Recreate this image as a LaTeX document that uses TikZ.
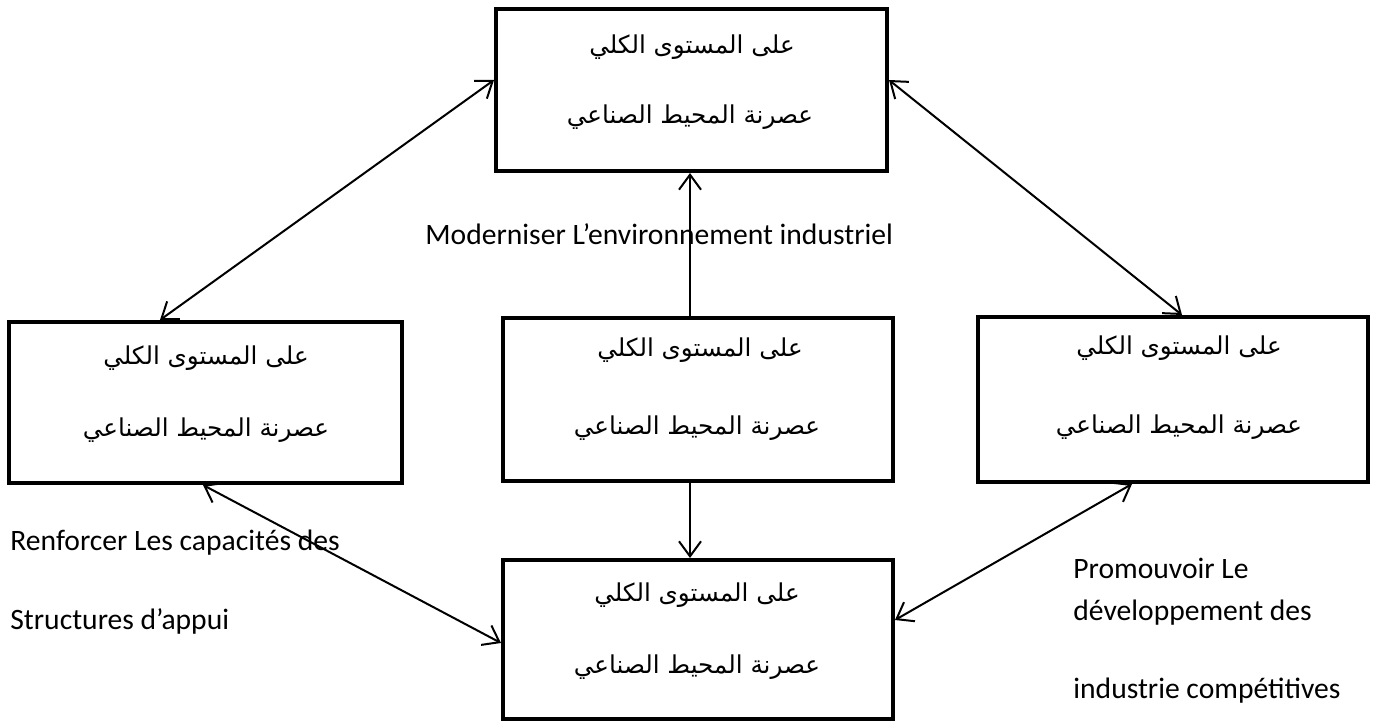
\documentclass[tikz,border=0pt]{standalone}
\usepackage{fontspec}
\setmainfont{Carlito}
\newfontfamily\arabicfont[Script=Arabic]{DejaVu Sans}
\TeXXeTstate=1
\usetikzlibrary{arrows.meta,fit,calc}
\begin{document}
\begin{tikzpicture}[x=0.5pt,y=-0.5pt,
  box/.style={draw, line width=2pt, inner sep=0pt},
  ar/.style={font=\arabicfont\fontsize{12.3}{14}\selectfont, inner sep=0pt, anchor=center},
  lbl/.style={font=\fontsize{14.8}{17}\selectfont, inner sep=0pt, anchor=base west},
  conn/.style={line width=1pt},
  >={Straight Barb[length=7.5pt,width=11pt]}]
\useasboundingbox (0,0) rectangle (1381,727);
% boxes
\node[box, fit={(496,9)(887,171)}] (top) {};
\node[box, fit={(9,322)(402,483)}] (left) {};
\node[box, fit={(503,318)(893,481)}] (mid) {};
\node[box, fit={(978,317)(1368,482)}] (right) {};
\node[box, fit={(503,560)(893,719)}] (bot) {};
% arabic texts
\node[ar] (t1) at (692,47) {\beginR على المستوى الكلي\endR};
\node[ar] (t2) at (690,117) {\beginR عصرنة المحيط الصناعي\endR};
\node[ar] (l1a) at (206,358) {\beginR على المستوى الكلي\endR};
\node[ar] (l2a) at (206,430) {\beginR عصرنة المحيط الصناعي\endR};
\node[ar] (m1a) at (700,350) {\beginR على المستوى الكلي\endR};
\node[ar] (m2a) at (697,428) {\beginR عصرنة المحيط الصناعي\endR};
\node[ar] (r1a) at (1179,348) {\beginR على المستوى الكلي\endR};
\node[ar] (r2a) at (1179,427) {\beginR عصرنة المحيط الصناعي\endR};
\node[ar] (b1a) at (697,595) {\beginR على المستوى الكلي\endR};
\node[ar] (b2a) at (697,667) {\beginR عصرنة المحيط الصناعي\endR};
% labels
\node[lbl] (lab1) at (425,245) {Moderniser L’environnement industriel};
\node[lbl] (lab2) at (10,550) {Renforcer Les capacités des};
\node[lbl] (lab3) at (10,629) {Structures d’appui};
\node[lbl] (lab4) at (1073,578) {Promouvoir Le};
\node[lbl] (lab5) at (1073,620) {développement des};
\node[lbl] (lab6) at (1073,698) {industrie compétitives};
% connectors
\draw[conn,<->] ($(top.west)+(0,-10)$) -- ($(left.north)+(-45.5,0)$);
\draw[conn,<->] ($(top.east)+(0,-10)$) -- ($(right.north)+(9,0)$);
\draw[conn,->] ($(mid.north)+(-8,0)$) coordinate (mt) -- (mt |- top.south);
\draw[conn,->] ($(mid.south)+(-8,0)$) coordinate (mb) -- (mb |- bot.north);
\draw[conn,<->] ($(left.south)+(-2.5,0)$) -- ($(bot.west)+(0,3.5)$);
\draw[conn,<->] ($(right.south)+(-41,0)$) -- ($(bot.east)+(0,-19.5)$);
\end{tikzpicture}
\end{document}
